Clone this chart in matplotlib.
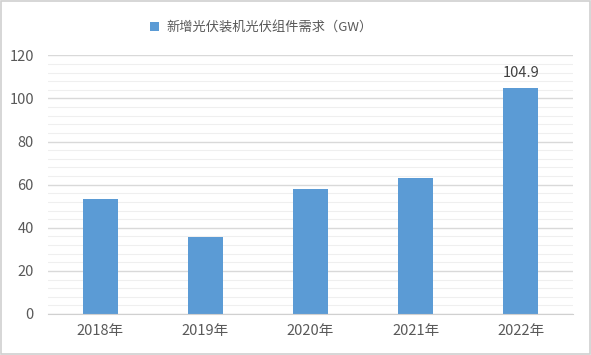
import matplotlib.pyplot as plt
import numpy as np
from matplotlib.patches import Rectangle

plt.rcParams['font.family'] = ['Noto Sans CJK SC', 'DejaVu Sans']

# data
years = ['2018年', '2019年', '2020年', '2021年', '2022年']
demand = [53.3, 35.7, 58.2, 63.3, 104.9]
series_name = '新增光伏装机光伏组件需求（GW）'

text_color = '#595959'
bar_color = '#5B9BD5'

fig = plt.figure(figsize=(5.91, 3.55), dpi=100)
ax = fig.add_axes([0.081, 0.1155, 0.889, 0.7285])

x = np.arange(len(years))
bars = ax.bar(x, demand, width=0.33, color=bar_color, label=series_name, zorder=3)

ax.set_xlim(-0.5, len(years) - 0.5)
ax.set_ylim(0, 120)
ax.set_yticks(np.arange(0, 121, 20))
ax.set_yticks(np.arange(0, 121, 4), minor=True)
ax.grid(axis='y', which='major', color='#D9D9D9', linewidth=1.0, zorder=0)
ax.grid(axis='y', which='minor', color='#EFEFEF', linewidth=0.8, zorder=0)

ax.set_xticks(x)
ax.set_xticklabels(years)
ax.tick_params(axis='both', which='both', length=0, labelsize=10.5, colors=text_color)
ax.tick_params(axis='x', pad=7)
ax.tick_params(axis='y', pad=10)

for side in ['top', 'right', 'left']:
    ax.spines[side].set_visible(False)
ax.spines['bottom'].set_color('#D0D0D0')
ax.spines['bottom'].set_zorder(4)

# label only the last bar, like the original
ax.text(x[-1], demand[-1] + 3.5, f'{demand[-1]}', ha='center', va='bottom',
        fontsize=10.5, color='#404040')

leg = fig.legend(loc='upper center', bbox_to_anchor=(0.442, 0.975), frameon=False,
                 fontsize=9.5, handlelength=0.7, handleheight=0.7, handletextpad=0.5)
for t in leg.get_texts():
    t.set_color(text_color)

# light frame around the picture
fig.patches.append(Rectangle((0.002, 0.003), 0.996, 0.994, transform=fig.transFigure,
                             fill=False, edgecolor='#D0D0D0', linewidth=1.2))

plt.savefig('out.png', dpi=100)
